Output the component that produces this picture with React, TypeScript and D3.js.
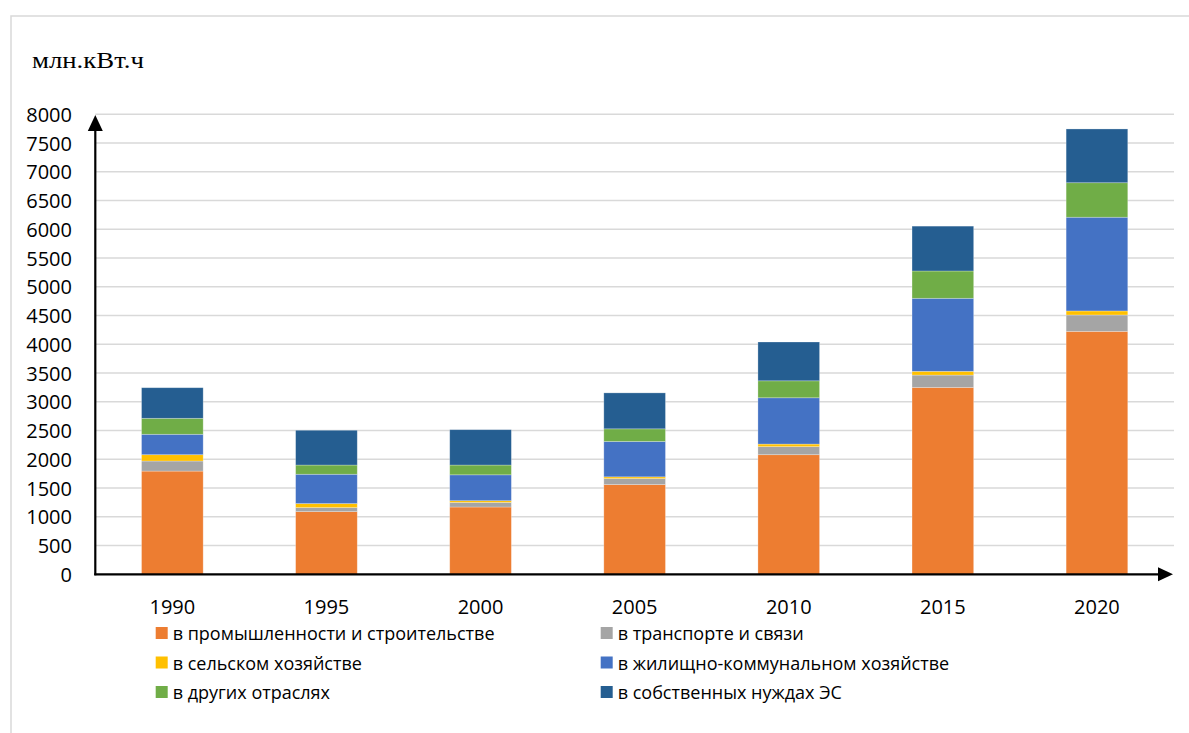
import React from "react";
import * as d3 from "d3";

const years = ["1990", "1995", "2000", "2005", "2010", "2015", "2020"];
const seriesNames = [
  "в промышленности и строительстве",
  "в транспорте и связи",
  "в сельском хозяйстве",
  "в жилищно-коммунальном хозяйстве",
  "в других отраслях",
  "в собственных нуждах ЭС",
];
const industry = [1795, 1090, 1170, 1560, 2080, 3250, 4225];
const transport = [175, 70, 80, 105, 140, 215, 285];
const agriculture = [110, 70, 30, 30, 45, 65, 70];
const housing = [355, 510, 450, 615, 805, 1270, 1630];
const other = [278, 160, 170, 220, 295, 475, 600];
const ownNeeds = [532, 605, 615, 625, 675, 780, 935];
const yTicks = [0, 500, 1000, 1500, 2000, 2500, 3000, 3500, 4000, 4500, 5000, 5500, 6000, 6500, 7000, 7500, 8000];
const unitLabel = "млн.кВт.ч";

const colors = ["#ED7D31", "#A5A5A5", "#FFC000", "#4472C4", "#70AD47", "#255E91"];

export default function App() {
  const W = 1189, H = 733;
  const x0 = 95.3, x1 = 1174, yBottom = 574.3, yTop = 114.3;
  const allSeries = [industry, transport, agriculture, housing, other, ownNeeds];
  const rows = years.map((y, i) => {
    const r: any = { year: y };
    seriesNames.forEach((s, k) => (r[s] = allSeries[k][i]));
    return r;
  });
  const stack = d3.stack<any>().keys(seriesNames)(rows);
  const x = d3.scaleBand().domain(years).range([x0, x1]).paddingInner(0.6).paddingOuter(0.3);
  const y = d3.scaleLinear().domain([0, 8000]).range([yBottom, yTop]);
  const font = "'Open Sans', sans-serif";

  return (
    <svg width={W} height={H} style={{ position: "absolute", left: 0, top: 0 }} fontFamily={font}>
      <rect x={0} y={0} width={W} height={H} fill="#fff" />
      <rect x={11} y={16} width={W} height={H} fill="none" stroke="#d9d9d9" strokeWidth={1.5} />
      <text
        x={32}
        y={68}
        fontFamily="'Liberation Serif', 'Times New Roman', serif"
        fontSize={23}
        textLength={112}
        lengthAdjust="spacingAndGlyphs"
        fill="#000"
      >
        {unitLabel}
      </text>
      {yTicks.map((t) => (
        <g key={t}>
          {t > 0 && (
            <line x1={x0} x2={x1} y1={y(t)} y2={y(t)} stroke="#d9d9d9" strokeWidth={1.5} />
          )}
          <text x={72} y={y(t)} textAnchor="end" dominantBaseline="central" fontSize={20} fill="#000">
            {t}
          </text>
        </g>
      ))}
      {stack.map((layer, k) => (
        <g key={layer.key} fill={colors[k]}>
          {layer.map((d, i) => (
            <rect
              key={i}
              x={x(years[i])}
              width={x.bandwidth()}
              y={y(d[1])}
              height={y(d[0]) - y(d[1])}
              stroke="#ffffff"
              strokeOpacity={0.35}
              strokeWidth={0.75}
            />
          ))}
        </g>
      ))}
      <line x1={x0} x2={x0} y1={yBottom + 1} y2={128} stroke="#000" strokeWidth={2.2} />
      <path d={`M${x0 - 7.5},${131} L${x0},${115} L${x0 + 7.5},${131} Z`} fill="#000" />
      <line x1={x0 - 1} x2={1160} y1={yBottom} y2={yBottom} stroke="#000" strokeWidth={2.2} />
      <path d={`M1158,${yBottom - 7} L1173,${yBottom} L1158,${yBottom + 7} Z`} fill="#000" />
      {years.map((yr) => (
        <text key={yr} x={(x(yr) as number) + x.bandwidth() / 2} y={606} textAnchor="middle" dominantBaseline="central" fontSize={20} fill="#000">
          {yr}
        </text>
      ))}
      {seriesNames.map((s, k) => {
        const col = k % 2;
        const row = Math.floor(k / 2);
        const lx = col === 0 ? 155.7 : 600.7;
        const ly = 633 + row * 29.5;
        return (
          <g key={s}>
            <rect x={lx} y={ly - 6} width={12} height={12} fill={colors[k]} />
            <text x={lx + 17} y={ly} dominantBaseline="central" fontSize={18} fill="#000">
              {s}
            </text>
          </g>
        );
      })}
    </svg>
  );
}
